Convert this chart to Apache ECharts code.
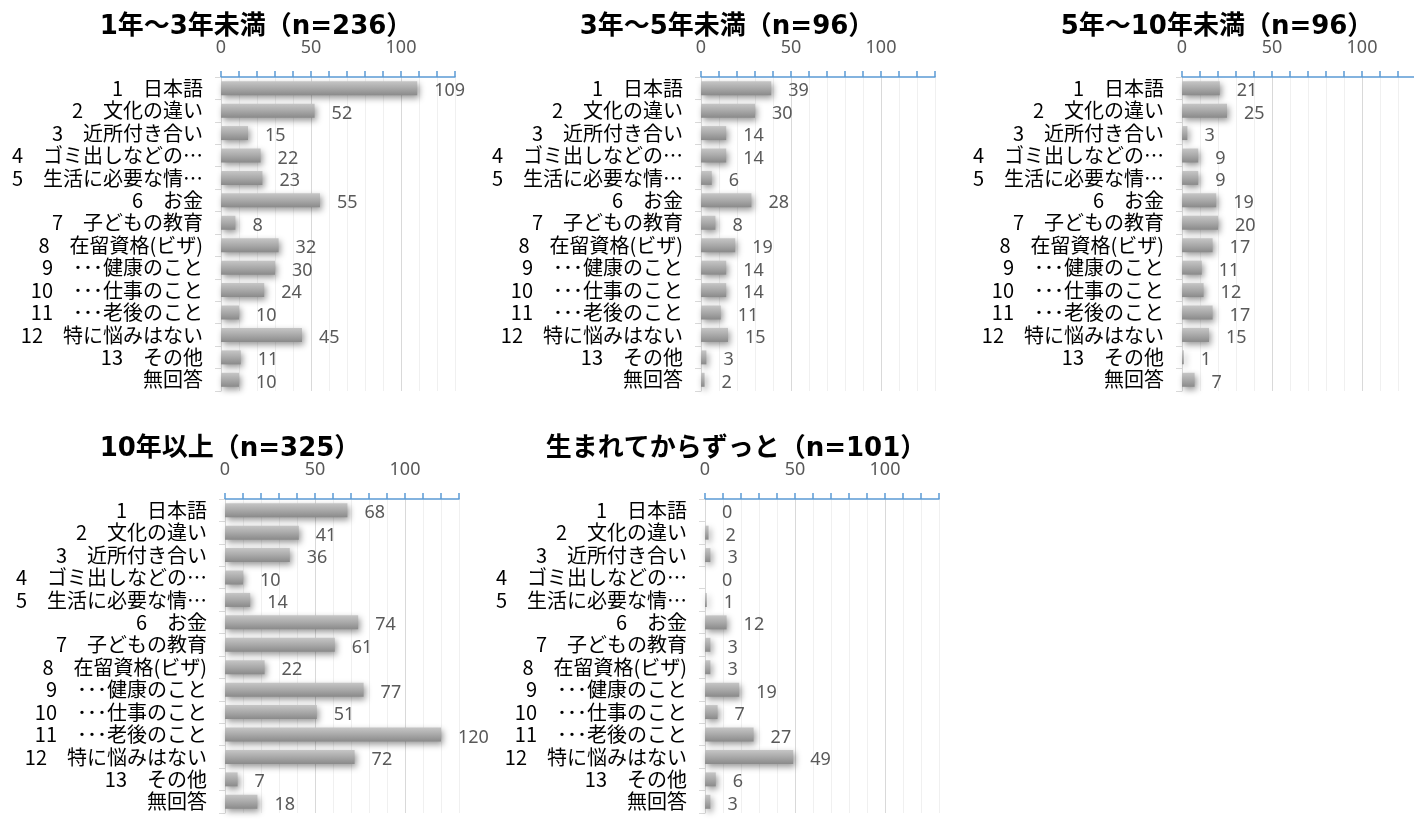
<!DOCTYPE html>
<html>
<head>
<meta charset="utf-8">
<script src="https://cdn.jsdelivr.net/npm/echarts@6/dist/echarts.min.js"></script>
<style>
  html, body { margin: 0; padding: 0; background: #fff; }
  #chart { width: 1414px; height: 819px; }
</style>
</head>
<body>
<div id="chart"></div>
<script>
// 悩みの項目
const categories = [
  "1\u3000日本語",
  "2\u3000文化の違い",
  "3\u3000近所付き合い",
  "4\u3000ゴミ出しなどの…",
  "5\u3000生活に必要な情…",
  "6\u3000お金",
  "7\u3000子どもの教育",
  "8\u3000在留資格(ビザ)",
  "9\u3000･･･健康のこと",
  "10\u3000･･･仕事のこと",
  "11\u3000･･･老後のこと",
  "12\u3000特に悩みはない",
  "13\u3000その他",
  "無回答"
];

const titles = [
  "1年～3年未満（n=236）",
  "3年～5年未満（n=96）",
  "5年～10年未満（n=96）",
  "10年以上（n=325）",
  "生まれてからずっと（n=101）"
];

const years1to3 = [109, 52, 15, 22, 23, 55, 8, 32, 30, 24, 10, 45, 11, 10];
const years3to5 = [39, 30, 14, 14, 6, 28, 8, 19, 14, 14, 11, 15, 3, 2];
const years5to10 = [21, 25, 3, 9, 9, 19, 20, 17, 11, 12, 17, 15, 1, 7];
const years10plus = [68, 41, 36, 10, 14, 74, 61, 22, 77, 51, 120, 72, 7, 18];
const sinceBirth = [0, 2, 3, 0, 1, 12, 3, 3, 19, 7, 27, 49, 6, 3];

const seriesData = [years1to3, years3to5, years5to10, years10plus, sinceBirth];

// panel layout: grid left/top, title centre
const panels = [
  { left: 221, top: 77, titleX: 251, titleY: 9 },
  { left: 701, top: 77, titleX: 722, titleY: 9 },
  { left: 1182, top: 77, titleX: 1212, titleY: 9 },
  { left: 225, top: 499, titleX: 225, titleY: 431 },
  { left: 705, top: 499, titleX: 731, titleY: 431 }
];

const NUM_FONT = '"Noto Sans", "Noto Sans CJK JP", sans-serif';
const CAT_FONT = '"Noto Sans CJK JP", sans-serif';
const TITLE_FONT = '"DejaVu Sans", "Noto Sans CJK JP", sans-serif';

const barColor = new echarts.graphic.LinearGradient(0, 0, 0, 1, [
  { offset: 0, color: "#c6c6c6" },
  { offset: 0.5, color: "#a9a9a9" },
  { offset: 1, color: "#8a8a8a" }
]);

const option = {
  animation: false,
  backgroundColor: "#fff",
  title: panels.map((p, i) => ({
    text: titles[i],
    left: p.titleX,
    top: p.titleY,
    textAlign: "center",
    textStyle: { fontFamily: TITLE_FONT, fontSize: 26, fontWeight: "bold", color: "#000" }
  })),
  grid: panels.map((p) => ({
    left: p.left,
    top: p.top,
    width: 234,
    height: 314,
    containLabel: false,
    outerBoundsMode: "none"
  })),
  xAxis: panels.map((p, i) => ({
    type: "value",
    gridIndex: i,
    position: "top",
    min: 0,
    max: 130,
    interval: 10,
    axisLine: { show: true, lineStyle: { color: "#5b9bd5", width: 1.5 } },
    axisTick: { show: true, length: 6, lineStyle: { color: "#5b9bd5", width: 1.5 } },
    axisLabel: {
      margin: 20,
      fontFamily: NUM_FONT,
      fontSize: 18,
      color: "#595959",
      formatter: (v) => (v % 50 === 0 ? String(v) : "")
    },
    splitLine: {
      show: true,
      lineStyle: { color: ["#d9d9d9", "#f0f0f0", "#f0f0f0", "#f0f0f0", "#f0f0f0"], width: 1 }
    }
  })),
  yAxis: panels.map((p, i) => ({
    type: "category",
    gridIndex: i,
    inverse: true,
    data: categories,
    axisLine: { show: true, lineStyle: { color: "#d9d9d9" } },
    axisTick: { show: true, length: 6, lineStyle: { color: "#d9d9d9" } },
    axisLabel: {
      margin: 18,
      fontFamily: CAT_FONT,
      fontSize: 20,
      color: "#000",
      interval: 0,
      padding: [5, 0, 0, 0]
    }
  })),
  series: seriesData.map((d, i) => ({
    type: "bar",
    xAxisIndex: i,
    yAxisIndex: i,
    data: d,
    barWidth: 14,
    itemStyle: {
      color: barColor,
      shadowColor: "rgba(0,0,0,0.4)",
      shadowBlur: 6,
      shadowOffsetX: 2,
      shadowOffsetY: 3
    },
    label: {
      show: true,
      position: "right",
      distance: 17,
      fontFamily: NUM_FONT,
      fontSize: 18,
      color: "#595959",
      offset: [0, 3]
    }
  }))
};

const chart = echarts.init(document.getElementById("chart"));
chart.setOption(option);
</script>
</body>
</html>
